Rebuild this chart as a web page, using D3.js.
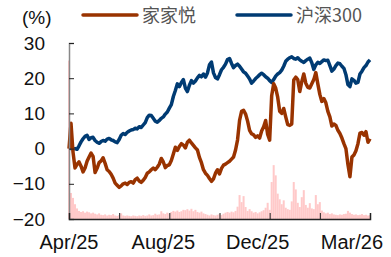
<!DOCTYPE html>
<html>
<head>
<meta charset="utf-8">
<script src="https://cdn.jsdelivr.net/npm/d3@7"></script>
<style>
  body { margin: 0; background: #fff; }
  svg { display: block; }
  .tick text { font-family: "Liberation Sans", Arial, sans-serif; font-size: 19px; fill: #111; }
</style>
</head>
<body>
<svg></svg>
<script>
// 家家悦 vs 沪深300, cumulative return (%), plus daily turnover bars
var jjy = [0, 7.2, -1, -5.5, -4.5, -3.8, -5.0, -6.6, -5.5, -3.6, -2.4, -1.3, -2.2, -6.8, -5.6, -4.0, -3.5, -2.6, -4.2, -6.0,
  -6.5, -7.3, -8.4, -9.8, -10.4, -11.0, -10.6, -10.0, -9.8, -10.2, -9.6, -9.4, -9.8, -8.8, -8.4, -9.2, -9.6, -9.0, -8.2, -7.0,
  -6.6, -6.0, -5.5, -6.0, -5.3, -4.4, -2.8, -3.8, -5.4, -4.8, -4.6, -3.4, -1.5, 0.4, -0.5, 0.6, 1.4, 1.0, 0.2, 1.8,
  2.4, 1.6, 0.9, 0.2, -0.4, -2.5, -4.0, -6.0, -7.0, -7.6, -8.5, -9.3, -8.6, -7.0, -6.0, -7.2, -5.6, -4.7, -4.4, -4.0,
  -3.6, -3.0, -2.4, -0.4, 2.5, 8.0, 10.6, 10.9, 9.8, 7.8, 5.2, 4.2, 3.9, 3.2, 3.6, 3.0, 5.0, 6.2, 8.0, 4.0,
  2.4, 15.0, 18.4, 17.2, 14.6, 10.6, 10.0, 11.4, 9.0, 6.8, 6.6, 7.0, 19.5, 20.3, 19.6, 16.2, 19.0, 21.2, 18.6, 17.4,
  17.2, 18.4, 19.6, 21.6, 18.4, 15.4, 13.4, 14.2, 13.0, 10.6, 9.0, 6.4, 7.0, 6.6, 5.2, 4.3, 3.0, 1.4, 0.0, -4.5,
  -8.0, -2.4, -1.8, -0.6, 1.4, 4.4, 4.6, 3.8, 4.8, 1.8, 2.8];

var hs300 = [0, 0.1, -0.1, 0, -0.2, 0.8, 1.9, 2.8, 3.5, 3.8, 2.6, 3.1, 3.2, 2.3, 1.8, 1.5, 2.0, 2.3, 2.1, 2.7,
  2.9, 2.5, 2.3, 1.9, 1.7, 2.6, 3.8, 4.3, 4.0, 4.6, 5.0, 5.3, 5.4, 5.8, 5.6, 6.2, 6.0, 6.7, 7.4, 8.8,
  9.5, 9.4, 8.6, 7.8, 7.5, 8.0, 8.6, 9.0, 9.8, 10.4, 11.5, 12.5, 14.8, 16.5, 18.4, 17.6, 18.8, 19.6, 17.2, 16.2,
  18.0, 19.3, 18.6, 19.2, 20.1, 20.8, 20.4, 21.2, 20.3, 21.5, 23.8, 24.6, 21.5, 20.2, 19.8, 21.0, 22.4, 23.1, 24.0, 25.3,
  25.6, 24.2, 23.0, 23.6, 24.0, 23.4, 22.6, 21.8, 21.4, 20.6, 19.8, 18.6, 19.2, 19.9, 20.4, 21.0, 21.4, 21.0, 20.4, 20.0,
  19.3, 18.8, 19.6, 20.6, 21.2, 21.6, 22.3, 23.4, 24.8, 25.4, 25.8, 26.1, 25.6, 25.4, 25.8, 25.2, 24.8, 24.5, 25.0, 25.4,
  25.7, 24.4, 22.5, 23.8, 24.5, 24.2, 24.7, 25.2, 25.0, 25.1, 23.6, 22.0, 22.6, 23.6, 24.3, 24.1, 23.4, 22.8, 21.0, 18.2,
  17.6, 19.8, 19.4, 18.6, 18.8, 21.2, 22.0, 23.0, 23.6, 24.6, 25.2];

var turnover = [45, 7.4, 6.0, 4.2, 3.0, 2.3, 2.0, 2.2, 1.8, 2.1, 1.9, 1.6, 1.8, 1.5, 1.3, 1.6, 1.2, 1.1, 1.3, 1.0,
  1.2, 1.1, 1.4, 1.0, 0.9, 1.1, 1.6, 1.0, 0.9, 1.0, 0.9, 0.8, 1.0, 0.9, 0.8, 1.0, 0.9, 1.1, 0.9, 1.0,
  1.3, 1.0, 1.1, 1.5, 1.2, 1.3, 2.2, 1.6, 1.4, 1.8, 1.5, 2.0, 2.3, 2.1, 2.4, 2.0, 2.2, 2.6, 2.5, 2.8,
  2.4, 2.9, 2.2, 2.6, 2.0, 1.8, 2.1, 1.6, 1.4, 1.2, 1.0, 1.3, 1.1, 1.0, 1.2, 1.4, 1.1, 1.5, 1.8, 2.0,
  1.8, 2.1, 1.9, 2.3, 3.5, 6.8, 4.8, 6.5, 3.4, 2.3, 2.8, 2.2, 1.8, 2.0, 1.6, 1.9, 2.2, 2.5, 3.2, 4.6,
  2.6, 10.5, 15.3, 12.4, 7.2, 5.6, 4.2, 5.3, 3.2, 2.8, 2.6, 5.0, 10.5, 8.4, 4.6, 3.4, 6.2, 8.2, 4.0, 3.2,
  4.5, 3.0, 2.8, 6.8, 4.2, 4.8, 2.4, 1.9, 1.6, 1.8, 1.4, 1.6, 1.3, 1.2, 1.1, 1.3, 1.2, 1.4, 1.5, 2.3,
  1.8, 1.4, 1.2, 1.3, 1.1, 1.2, 1.4, 1.1, 1.2, 1.0, 1.1];

var yTicks = [-20, -10, 0, 10, 20, 30];
var xTickIdx = [0, 25, 50, 75, 100, 125, 150];
var xLabelIdx = [0, 47, 94, 141];
var xLabels = ['Apr/25', 'Aug/25', 'Dec/25', 'Mar/26'];
var seriesNames = ['家家悦', '沪深300'];
var seriesColors = ['#993300', '#003b73'];

var width = 391, height = 257;
var margin = {top: 43, right: 21, bottom: 38, left: 69};

var svg = d3.select('svg')
    .attr('width', width)
    .attr('height', height);

var x = d3.scaleLinear()
    .domain([0, jjy.length - 1])
    .range([margin.left, width - margin.right]);

var y = d3.scaleLinear()
    .domain([-20, 30])
    .range([height - margin.bottom, margin.top]);

// turnover sits on its own (hidden) scale, starting from the bottom of the plot
var yVol = d3.scaleLinear()
    .domain([0, 50])
    .range([height - margin.bottom, margin.top]);

svg.append('g')
  .selectAll('rect')
  .data(turnover)
  .enter()
  .append('rect')
    .attr('x', (d, i) => x(i) - 1)
    .attr('width', 2)
    .attr('y', d => yVol(d))
    .attr('height', d => yVol(0) - yVol(d))
    .attr('fill', '#ffc9c9');

var line = d3.line()
    .x((d, i) => x(i))
    .y(d => y(d));

svg.append('path')
    .datum(hs300)
    .attr('fill', 'none')
    .attr('stroke', seriesColors[1])
    .attr('stroke-width', 3.5)
    .attr('stroke-linejoin', 'round')
    .attr('d', line);

svg.append('path')
    .datum(jjy)
    .attr('fill', 'none')
    .attr('stroke', seriesColors[0])
    .attr('stroke-width', 3.5)
    .attr('stroke-linejoin', 'round')
    .attr('d', line);

// y axis, ticks pointing inward
var yAxis = svg.append('g')
    .attr('transform', 'translate(' + margin.left + ',0)')
    .call(d3.axisRight(y).tickValues(yTicks).tickSize(5).tickFormat(d3.format('d')));
yAxis.select('.domain').attr('stroke', '#888').attr('stroke-width', 1.5);
yAxis.selectAll('.tick line').attr('stroke', '#222');
yAxis.selectAll('.tick text')
    .attr('x', -24)
    .attr('text-anchor', 'end');

// x axis, ticks pointing up
var xAxis = svg.append('g')
    .attr('transform', 'translate(0,' + y(-20) + ')')
    .call(d3.axisTop(x).tickValues(xTickIdx).tickSize(6).tickFormat(''));
xAxis.select('.domain').attr('stroke', '#222').attr('stroke-width', 1.5);
xAxis.selectAll('.tick line').attr('stroke', '#222');

svg.append('g')
  .selectAll('text')
  .data(xLabelIdx)
  .enter()
  .append('text')
    .attr('x', d => x(d))
    .attr('y', 249)
    .attr('text-anchor', 'middle')
    .style('font-family', '"Liberation Sans", Arial, sans-serif')
    .style('font-size', '20px')
    .style('fill', '#111')
    .text((d, i) => xLabels[i]);

svg.append('text')
    .attr('x', 22)
    .attr('y', 24)
    .style('font-family', '"Liberation Sans", Arial, sans-serif')
    .style('font-size', '19px')
    .style('fill', '#111')
    .text('(%)');

// legend
var legendX = [83, 237];
var legend = svg.append('g')
  .selectAll('g')
  .data(seriesNames)
  .enter()
  .append('g')
    .attr('transform', (d, i) => 'translate(' + legendX[i] + ',15)');

legend.append('line')
    .attr('x1', 0).attr('x2', 54)
    .attr('stroke', (d, i) => seriesColors[i])
    .attr('stroke-width', 3.5)
    .attr('stroke-linecap', 'round');

legend.append('text')
    .attr('x', 59)
    .attr('y', 7)
    .style('font-family', '"Noto Sans CJK SC", sans-serif')
    .style('font-size', '18px')
    .style('fill', '#555')
    .text(d => d);
</script>
</body>
</html>
